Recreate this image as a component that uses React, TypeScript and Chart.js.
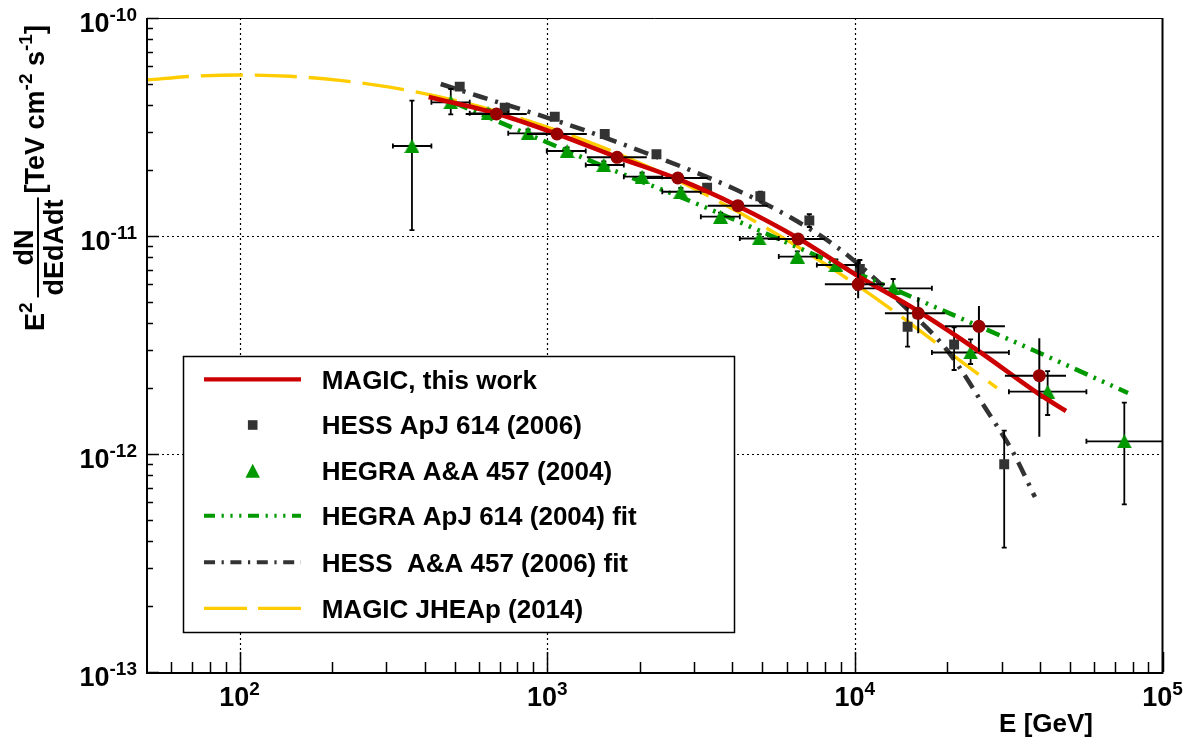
import React, { useEffect, useRef } from "react";
import { Chart, registerables } from "chart.js";

Chart.register(...registerables);

const FONT = '"Liberation Sans", Arial, Helvetica, sans-serif';
const W = 1193;
const H = 744;

// ---- axes ----
const xMin = 50;
const xMax = 1e5;
const yMin = 1e-13;
const yMax = 1e-10;
const xMajorTicks = [1e2, 1e3, 1e4, 1e5];
const xTickExponents = ["2", "3", "4", "5"];
const yMajorTicks = [1e-13, 1e-12, 1e-11, 1e-10];
const yTickExponents = ["-13", "-12", "-11", "-10"];
const xGrid = [1e2, 1e3, 1e4];
const yGrid = [1e-12, 1e-11];
const xTitle = "E [GeV]";

// ---- MAGIC, this work (points) ----
const magicE = [683.6, 1076, 1687, 2657, 4165, 6540, 10250, 16070, 25310, 39770];
const magicF = [3.627e-11, 2.937e-11, 2.296e-11, 1.845e-11, 1.377e-11, 9.69e-12, 6.0e-12, 4.42e-12, 3.85e-12, 2.287e-12];
const magicEbins = [543, 858, 1345, 2107, 3327, 5213, 7988, 12520, 19620, 30740, 48570];
const magicFlo = [3.5e-11, 2.84e-11, 2.21e-11, 1.77e-11, 1.31e-11, 9.1e-12, 5.18e-12, 3.58e-12, 2.946e-12, 1.2e-12];
const magicFhi = [3.76e-11, 3.04e-11, 2.38e-11, 1.92e-11, 1.44e-11, 1.03e-11, 7.76e-12, 5.23e-12, 4.774e-12, 3.394e-12];

// ---- MAGIC, this work (fit) ----
const magicFitE = [411.8, 685, 1074, 1683, 2657, 4164, 6526, 10230, 16030, 25500, 39660, 48570];
const magicFitF = [4.342e-11, 3.646e-11, 2.937e-11, 2.304e-11, 1.826e-11, 1.373e-11, 9.79e-12, 6.555e-12, 4.529e-12, 2.937e-12, 1.884e-12, 1.574e-12];

// ---- HESS ApJ 614 (2006) ----
const hessE = [519.4, 727.4, 1058, 1538, 2265, 3309, 4928, 7112, 10380, 14840, 21020, 30580];
const hessF = [4.842e-11, 3.878e-11, 3.525e-11, 2.937e-11, 2.37e-11, 1.665e-11, 1.521e-11, 1.178e-11, 7.057e-12, 3.836e-12, 3.178e-12, 8.97e-13];
const hessFlo = [4.7e-11, 3.77e-11, 3.42e-11, 2.85e-11, 2.29e-11, 1.6e-11, 1.45e-11, 1.1e-11, 6.45e-12, 3.106e-12, 2.428e-12, 3.716e-13];
const hessFhi = [4.99e-11, 3.99e-11, 3.63e-11, 3.03e-11, 2.45e-11, 1.73e-11, 1.596e-11, 1.258e-11, 7.76e-12, 4.739e-12, 3.813e-12, 1.279e-12];

// ---- HEGRA A&A 457 (2004) ----
const hegraE = [363.3, 485.7, 642.0, 866.2, 1160, 1527, 2034, 2718, 3659, 4885, 6501, 8675, 13320, 23780, 42330, 75140];
const hegraF = [2.587e-11, 4.105e-11, 3.653e-11, 2.959e-11, 2.454e-11, 2.117e-11, 1.871e-11, 1.596e-11, 1.226e-11, 9.74e-12, 8.05e-12, 7.36e-12, 5.755e-12, 2.922e-12, 1.931e-12, 1.143e-12];
const hegraEbins = [315, 420.2, 559.8, 746.8, 996.3, 1334, 1774, 2366, 3157, 4227, 5658, 7523, 10080, 17800, 31680, 56580, 130000];
const hegraFlo = [1.065e-11, 3.616e-11, 3.5e-11, 2.84e-11, 2.36e-11, 2.03e-11, 1.79e-11, 1.53e-11, 1.17e-11, 9.3e-12, 7.6e-12, 6.9e-12, 5.266e-12, 2.587e-12, 1.51e-12, 5.88e-13];
const hegraFhi = [4.174e-11, 4.723e-11, 3.81e-11, 3.08e-11, 2.55e-11, 2.2e-11, 1.95e-11, 1.66e-11, 1.28e-11, 1.02e-11, 8.5e-12, 7.8e-12, 6.35e-12, 3.358e-12, 2.402e-12, 1.719e-12];

// ---- HEGRA ApJ 614 (2004) fit ----
const hegraFitE = [500, 877.3, 1515, 3133, 6477, 15330, 37920, 77240];
const hegraFitF = [4.074e-11, 2.906e-11, 2.096e-11, 1.387e-11, 8.903e-12, 5.25e-12, 2.999e-12, 1.905e-12];

// ---- HESS A&A 457 (2006) fit ----
const hessFitE = [450.6, 603.4, 897.0, 1375, 1897, 2907, 4132, 6146, 8740, 11360, 14540, 19920, 27070, 32640, 38490];
const hessFitF = [4.981e-11, 4.364e-11, 3.665e-11, 3.0e-11, 2.533e-11, 2.009e-11, 1.626e-11, 1.222e-11, 8.9e-12, 6.555e-12, 4.724e-12, 3.0e-12, 1.558e-12, 1.021e-12, 6.35e-13];

// ---- MAGIC JHEAp (2014) ----
const magic14E = [50, 71.41, 100, 145.4, 211.4, 307.5, 447.1, 650.1, 945.4, 1375, 1999, 2907, 4227, 6146, 8937, 13000, 18900, 28960];
const magic14F = [5.196e-11, 5.408e-11, 5.477e-11, 5.403e-11, 5.174e-11, 4.815e-11, 4.345e-11, 3.813e-11, 3.247e-11, 2.688e-11, 2.162e-11, 1.687e-11, 1.277e-11, 9.4e-12, 6.716e-12, 4.659e-12, 3.139e-12, 2.009e-12];

const legendLabels = [
  "MAGIC, this work",
  "HESS ApJ 614 (2006)",
  "HEGRA A&A 457 (2004)",
  "HEGRA ApJ 614 (2004) fit",
  "HESS  A&A 457 (2006) fit",
  "MAGIC JHEAp (2014)",
];

const RED_LINE = "#cc0000";
const RED_MARK = "#990000";
const GREEN = "#009900";
const GRAY = "#333333";
const YELLOW = "#ffcc00";
// legend samples
const DASH_GREEN_LEG = [11, 6.6, 2.2, 6.6, 2.2, 6.6, 2.2, 6.6];
const DASH_GRAY_LEG = [11, 6.6, 2.2, 6.6];
const DASH_YELLOW_LEG = [43, 11];
// in-plot curves
const DASH_GREEN = [14, 6.6, 2.6, 6.6, 2.6, 6.6, 2.6, 6.6];
const DASH_GRAY = [15, 8, 3, 8];
const DASH_YELLOW = [42, 12];

const pts = (E: number[], F: number[]) => E.map((e, i) => ({ x: e, y: F[i] }));

const lineDs = (label: string, E: number[], F: number[], color: string, width: number, dash: number[], order: number) => ({
  label,
  data: pts(E, F),
  borderColor: color,
  backgroundColor: color,
  borderWidth: width,
  borderDash: dash,
  borderCapStyle: "butt",
  pointRadius: 0,
  pointHoverRadius: 0,
  fill: false,
  cubicInterpolationMode: "monotone",
  order,
});

function drawTriangle(ctx: CanvasRenderingContext2D, cx: number, cy: number, w: number, h: number) {
  ctx.beginPath();
  ctx.moveTo(cx, cy - h / 2);
  ctx.lineTo(cx + w / 2, cy + h / 2);
  ctx.lineTo(cx - w / 2, cy + h / 2);
  ctx.closePath();
  ctx.fill();
}

function makeTriangleImage(color: string) {
  const c = document.createElement("canvas");
  c.width = 15;
  c.height = 14;
  const g = c.getContext("2d")!;
  g.fillStyle = color;
  drawTriangle(g, 7.5, 7, 15, 14);
  return c;
}

const rootPlugin = {
  id: "rootStyle",
  beforeDatasetsDraw(chart: any) {
    const { ctx, chartArea: a, scales } = chart;
    const x = scales.x;
    const y = scales.y;
    ctx.save();
    ctx.strokeStyle = "#000";
    ctx.lineWidth = 1.2;
    ctx.setLineDash([2, 3]);
    xGrid.forEach((v) => {
      const px = Math.round(x.getPixelForValue(v)) + 0.5;
      ctx.beginPath();
      ctx.moveTo(px, a.top);
      ctx.lineTo(px, a.bottom);
      ctx.stroke();
    });
    yGrid.forEach((v) => {
      const py = Math.round(y.getPixelForValue(v)) + 0.5;
      ctx.beginPath();
      ctx.moveTo(a.left, py);
      ctx.lineTo(a.right, py);
      ctx.stroke();
    });
    ctx.restore();
  },
  beforeDatasetDraw(chart: any, args: any) {
    const ds = chart.data.datasets[args.index];
    const err = ds.err;
    if (!err) return;
    const { ctx, chartArea: a, scales } = chart;
    const x = scales.x;
    const y = scales.y;
    ctx.save();
    ctx.beginPath();
    ctx.rect(a.left, a.top, a.right - a.left, a.bottom - a.top);
    ctx.clip();
    ctx.strokeStyle = "#000";
    ctx.lineWidth = err.width;
    ctx.setLineDash([]);
    ds.data.forEach((d: any, i: number) => {
      const px = x.getPixelForValue(d.x);
      const py = y.getPixelForValue(d.y);
      const c = err.cap;
      ctx.beginPath();
      if (err.xlo) {
        const x1 = x.getPixelForValue(err.xlo[i]);
        const x2 = x.getPixelForValue(err.xhi[i]);
        ctx.moveTo(x1, py);
        ctx.lineTo(x2, py);
        if (c) {
          ctx.moveTo(x1, py - c);
          ctx.lineTo(x1, py + c);
          ctx.moveTo(x2, py - c);
          ctx.lineTo(x2, py + c);
        }
      }
      if (err.ylo) {
        const y1 = y.getPixelForValue(err.ylo[i]);
        const y2 = y.getPixelForValue(err.yhi[i]);
        ctx.moveTo(px, y1);
        ctx.lineTo(px, y2);
        if (c) {
          ctx.moveTo(px - c, y1);
          ctx.lineTo(px + c, y1);
          ctx.moveTo(px - c, y2);
          ctx.lineTo(px + c, y2);
        }
      }
      ctx.stroke();
    });
    ctx.restore();
  },
  afterDatasetsDraw(chart: any) {
    const { ctx, chartArea: a, scales } = chart;
    const x = scales.x;
    const y = scales.y;
    ctx.save();
    ctx.setLineDash([]);
    ctx.strokeStyle = "#000";
    ctx.fillStyle = "#000";

    // frame
    ctx.lineWidth = 1;
    ctx.beginPath();
    ctx.moveTo(a.left, a.top + 0.5);
    ctx.lineTo(a.right, a.top + 0.5);
    ctx.stroke();
    ctx.lineWidth = 2;
    ctx.beginPath();
    ctx.moveTo(a.right, a.top);
    ctx.lineTo(a.right, a.bottom);
    ctx.stroke();
    ctx.beginPath();
    ctx.moveTo(a.left, a.top);
    ctx.lineTo(a.left, a.bottom + 1);
    ctx.lineTo(a.right + 1, a.bottom + 1);
    ctx.stroke();

    // ticks
    ctx.lineWidth = 1.5;
    ctx.beginPath();
    for (let n = -13; n <= -10; n++) {
      for (let k = 1; k <= 9; k++) {
        const v = k * Math.pow(10, n);
        if (v < yMin * 0.999 || v > yMax * 1.001) continue;
        const py = Math.round(y.getPixelForValue(v)) + 0.5;
        const len = k === 1 ? 12 : 6;
        ctx.moveTo(a.left, py);
        ctx.lineTo(a.left + len, py);
      }
    }
    for (let n = 1; n <= 5; n++) {
      for (let k = 1; k <= 9; k++) {
        const v = k * Math.pow(10, n);
        if (v <= xMin * 1.001 || v > xMax * 1.001) continue;
        const px = Math.round(x.getPixelForValue(v)) + 0.5;
        const len = k === 1 ? 20 : 10;
        ctx.moveTo(px, a.bottom);
        ctx.lineTo(px, a.bottom - len);
      }
    }
    ctx.stroke();

    // y tick labels
    ctx.textBaseline = "alphabetic";
    ctx.textAlign = "left";
    yMajorTicks.forEach((v, i) => {
      const py = y.getPixelForValue(v);
      ctx.font = `bold 19px ${FONT}`;
      const ew = ctx.measureText(yTickExponents[i]).width;
      const right = 137;
      ctx.fillText(yTickExponents[i], right - ew, py + 3);
      ctx.font = `bold 27px ${FONT}`;
      const bw = ctx.measureText("10").width;
      ctx.fillText("10", right - ew - bw, py + 13.5);
    });

    // x tick labels
    xMajorTicks.forEach((v, i) => {
      const px = x.getPixelForValue(v);
      ctx.font = `bold 27px ${FONT}`;
      const bw = ctx.measureText("10").width;
      ctx.font = `bold 19px ${FONT}`;
      const ew = ctx.measureText(xTickExponents[i]).width;
      const start = px - (bw + ew) / 2;
      ctx.fillText(xTickExponents[i], start + bw, 695);
      ctx.font = `bold 27px ${FONT}`;
      ctx.fillText("10", start, 706);
    });

    // x title
    ctx.font = `bold 26px ${FONT}`;
    ctx.textAlign = "right";
    ctx.fillText(xTitle, 1093, 732);
    ctx.textAlign = "left";

    // y title (rotated)
    ctx.save();
    ctx.rotate(-Math.PI / 2);
    const big = `bold 27px ${FONT}`;
    const small = `bold 19px ${FONT}`;
    let u = 331;
    ctx.font = big;
    ctx.fillText("E", -u, 44);
    u -= ctx.measureText("E").width;
    ctx.font = small;
    ctx.fillText("2", -u, 32);
    u -= ctx.measureText("2").width + 5;
    ctx.font = big;
    const denW = ctx.measureText("dEdAdt").width;
    const numW = ctx.measureText("dN").width;
    ctx.fillText("dEdAdt", -(u - 2), 63);
    ctx.fillText("dN", -(u - 2 - (denW - numW) / 2), 33);
    ctx.fillRect(-u, 37, denW + 4, 2);
    u -= denW + 8;
    const parts: [string, boolean][] = [["[TeV cm", false], ["-2", true], [" s", false], ["-1", true], ["]", false]];
    parts.forEach(([t, sup]) => {
      ctx.font = sup ? small : big;
      ctx.fillText(t, -u, sup ? 32 : 44);
      u -= ctx.measureText(t).width;
    });
    ctx.restore();

    // legend
    const lx = 183.5, ly = 356.5, lw = 551, lh = 276;
    ctx.fillStyle = "#fff";
    ctx.fillRect(lx, ly, lw, lh);
    ctx.strokeStyle = "#000";
    ctx.lineWidth = 1.5;
    ctx.strokeRect(lx, ly, lw, lh);
    const rows = [379.3, 425, 470.7, 515.7, 562.3, 608.3];
    const sx1 = 204, sx2 = 301, scx = 252.7;
    const drawSample = (cy: number, color: string, width: number, dash: number[]) => {
      ctx.save();
      ctx.strokeStyle = color;
      ctx.lineWidth = width;
      ctx.lineCap = "butt";
      ctx.setLineDash(dash);
      ctx.beginPath();
      ctx.moveTo(sx1, cy);
      ctx.lineTo(sx2, cy);
      ctx.stroke();
      ctx.restore();
    };
    drawSample(rows[0], RED_LINE, 4.3, []);
    ctx.fillStyle = GRAY;
    ctx.fillRect(scx - 4.8, rows[1] - 4.8, 9.6, 9.6);
    ctx.fillStyle = GREEN;
    drawTriangle(ctx, scx, rows[2], 14.5, 14);
    drawSample(rows[3], GREEN, 4, DASH_GREEN_LEG);
    drawSample(rows[4], GRAY, 4, DASH_GRAY_LEG);
    drawSample(rows[5], YELLOW, 3.3, DASH_YELLOW_LEG);
    ctx.fillStyle = "#000";
    ctx.font = `bold 26px ${FONT}`;
    ctx.textAlign = "left";
    legendLabels.forEach((t, i) => {
      ctx.fillText(t, 321.7, rows[i] + 9.3);
    });
    ctx.restore();
  },
};

export default function App() {
  const ref = useRef<HTMLCanvasElement>(null);
  useEffect(() => {
    if (!ref.current) return;
    const tri = makeTriangleImage(GREEN);
    const datasets: any[] = [
      {
        label: "MAGIC points",
        data: pts(magicE, magicF),
        showLine: false,
        pointStyle: "circle",
        pointRadius: 6.5,
        pointBackgroundColor: RED_MARK,
        pointBorderColor: RED_MARK,
        pointBorderWidth: 0,
        order: 0,
        err: { xlo: magicEbins.slice(0, -1), xhi: magicEbins.slice(1), ylo: magicFlo, yhi: magicFhi, cap: 0, width: 2 },
      },
      lineDs("MAGIC fit", magicFitE, magicFitF, RED_LINE, 4.6, [], 1),
      {
        label: "HEGRA A&A 457 (2004)",
        data: pts(hegraE, hegraF),
        showLine: false,
        pointStyle: tri,
        pointRadius: 8,
        order: 2,
        err: { xlo: hegraEbins.slice(0, -1), xhi: hegraEbins.slice(1), ylo: hegraFlo, yhi: hegraFhi, cap: 2.5, width: 1.8 },
      },
      {
        label: "HESS ApJ 614 (2006)",
        data: pts(hessE, hessF),
        showLine: false,
        pointStyle: "rect",
        pointRadius: 7,
        pointBackgroundColor: GRAY,
        pointBorderColor: GRAY,
        pointBorderWidth: 0,
        order: 3,
        err: { ylo: hessFlo, yhi: hessFhi, cap: 2.5, width: 1.8 },
      },
      lineDs("HEGRA ApJ 614 (2004) fit", hegraFitE, hegraFitF, GREEN, 4.5, DASH_GREEN, 4),
      lineDs("HESS A&A 457 (2006) fit", hessFitE, hessFitF, GRAY, 4.5, DASH_GRAY, 5),
      lineDs("MAGIC JHEAp (2014)", magic14E, magic14F, YELLOW, 3.4, DASH_YELLOW, 6),
    ];
    const chart = new Chart(ref.current, {
      type: "line",
      data: { datasets },
      options: {
        responsive: false,
        animation: false,
        events: [],
        layout: { padding: { top: 18, right: 30.5, left: 0, bottom: 0 } },
        plugins: { legend: { display: false }, tooltip: { enabled: false }, title: { display: false } },
        scales: {
          x: {
            type: "logarithmic",
            min: xMin,
            max: xMax,
            ticks: { display: false },
            grid: { display: false, drawTicks: false },
            border: { display: false },
            afterFit: (s: any) => {
              s.height = 72;
            },
          },
          y: {
            type: "logarithmic",
            min: yMin,
            max: yMax,
            ticks: { display: false },
            grid: { display: false, drawTicks: false },
            border: { display: false },
            afterFit: (s: any) => {
              s.width = 147;
            },
          },
        },
      } as any,
      plugins: [rootPlugin as any],
    });
    return () => chart.destroy();
  }, []);
  return (
    <div style={{ position: "fixed", left: 0, top: 0, width: W, height: H, background: "#fff" }}>
      <canvas ref={ref} width={W} height={H} style={{ display: "block", width: W, height: H }} />
    </div>
  );
}
